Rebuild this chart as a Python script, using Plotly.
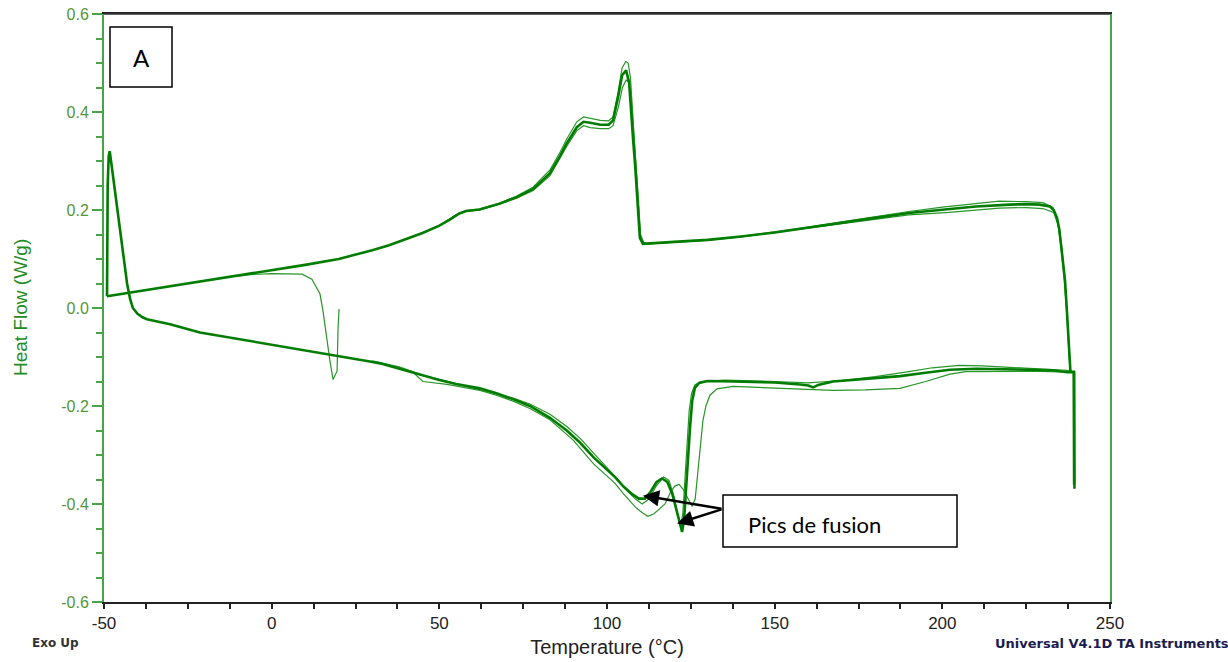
import plotly.graph_objects as go

# ---------------- data ----------------
# Cooling curves (exothermic crystallisation peak), temperature in °C, heat flow in W/g
cool_main_T = [239.3, 239.25, 239.2, 238.2, 237.9, 237.6, 237.2, 236.6, 235.7, 234.9, 234.2, 233.2, 232.1,
               229, 225, 220, 210, 200, 190, 180, 170, 160, 150, 140, 130, 120, 115, 112, 110.7, 109.8,
               109, 108.4, 107.8, 107.2, 106.6, 105.7, 104.5, 103.3, 101.8, 100.5, 98, 95, 93, 91, 88, 86,
               83, 78, 73, 68, 62, 58, 56, 53, 50, 45, 40, 35, 30, 25, 20, 10, 0, -10, -20, -30, -40, -46, -49.1]
cool_main_v = [-0.36, -0.25, -0.13, -0.13, -0.10, -0.068, -0.012, 0.055, 0.117, 0.16, 0.184, 0.2, 0.207,
               0.211, 0.212, 0.211, 0.207, 0.201, 0.194, 0.184, 0.174, 0.164, 0.154, 0.146, 0.139, 0.135, 0.133, 0.131, 0.131, 0.143,
               0.24, 0.29, 0.342, 0.40, 0.46, 0.485, 0.475, 0.43, 0.383, 0.374, 0.374, 0.378, 0.38, 0.369, 0.336, 0.31,
               0.275, 0.243, 0.226, 0.213, 0.201, 0.198, 0.193, 0.18, 0.168, 0.153, 0.14, 0.128, 0.118, 0.109, 0.1, 0.088, 0.077,
               0.066, 0.055, 0.045, 0.034, 0.027, 0.024]

cool_b_T = [238.0, 237.6, 237.0, 236.2, 235.3, 234.3, 233.0, 230, 225, 217, 210, 200, 190, 180, 170, 160, 150, 140,
            130, 120, 112, 110.8, 109.9, 109, 108.3, 107.6, 107, 106.3, 105.6, 104.5, 103.3, 101.8, 100.5, 98, 95, 93,
            91, 88, 86, 83, 78, 73, 68, 62, 58, 55, 50, 45, 40]
cool_b_v = [-0.12, -0.06, 0.0, 0.07, 0.13, 0.18, 0.205, 0.215, 0.217, 0.218, 0.213, 0.206, 0.197, 0.187, 0.176, 0.165, 0.155, 0.146,
            0.139, 0.135, 0.131, 0.134, 0.15, 0.25, 0.33, 0.41, 0.47, 0.5, 0.503, 0.49, 0.44, 0.39, 0.382, 0.383, 0.387, 0.39,
            0.38, 0.345, 0.318, 0.282, 0.247, 0.228, 0.214, 0.202, 0.199, 0.19, 0.168, 0.153, 0.14]

cool_c_T = [238.1, 237.7, 237.1, 236.4, 235.5, 234.5, 233.2, 230, 225, 217, 210, 202, 190, 180, 170, 160, 150, 140,
            130, 120, 112, 110.9, 110.0, 109.2, 108.4, 107.7, 107.1, 106.4, 105.7, 104.6, 103.4, 101.8, 100.5, 98, 95, 93,
            91, 88, 86, 83, 78, 73, 68, 62, 58, 55, 50, 45, 40]
cool_c_v = [-0.12, -0.06, 0.0, 0.07, 0.13, 0.17, 0.195, 0.203, 0.205, 0.204, 0.2, 0.195, 0.19, 0.181, 0.172, 0.162, 0.153, 0.145,
            0.138, 0.134, 0.131, 0.134, 0.15, 0.24, 0.32, 0.39, 0.44, 0.462, 0.465, 0.45, 0.41, 0.372, 0.366, 0.366, 0.368, 0.372,
            0.362, 0.33, 0.305, 0.27, 0.24, 0.224, 0.212, 0.2, 0.197, 0.19, 0.168, 0.153, 0.14]

# Initial thin segment (equilibration from ~20 °C)
init_T = [20.1, 19.8, 19.5, 18.3, 17.4, 16.5, 15.3, 14.4, 12, 9, 5, 0, -6.5, -10]
init_v = [-0.002, -0.041, -0.129, -0.146, -0.109, -0.061, -0.006, 0.029, 0.059, 0.069, 0.07, 0.07, 0.068, 0.065]

# Heating curves (endothermic melting peaks)
heat_main_T = [-49.1, -49.05, -48.9, -48.6, -48.3, -47.9, -47.0, -46.0, -45.2, -44.0, -43.1, -42.2, -41.4, -40.0,
               -38.5, -37.2, -34, -30.3, -21.4, -10, 0, 8.5, 20, 29.3, 32.3, 38, 42.2, 50, 55, 62.1, 67, 72, 77, 83,
               88, 92, 96, 100, 102.4, 105, 107.5, 109.5, 111.3, 113, 114.8, 116.4, 118, 119.5, 120.8, 121.8, 122.4,
               123, 123.5, 124.2, 124.8, 125.4, 126.2, 127.5, 130, 137.6, 150, 157.6, 160, 161.5, 163, 167.4, 177,
               187.4, 195, 202.3, 210, 220, 227, 233, 237.2, 239.3, 239.35, 239.4]
heat_main_v = [0.024, 0.15, 0.25, 0.31, 0.32, 0.30, 0.255, 0.20, 0.158, 0.10, 0.049, 0.018, 0.0, -0.012,
               -0.019, -0.023, -0.028, -0.033, -0.05, -0.063, -0.075, -0.085, -0.097, -0.109, -0.113, -0.124, -0.133,
               -0.147, -0.155, -0.164, -0.174, -0.186, -0.2, -0.224,
               -0.25, -0.275, -0.305, -0.33, -0.345, -0.365, -0.38, -0.389, -0.389, -0.375, -0.355, -0.348, -0.355,
               -0.38, -0.415, -0.445, -0.457, -0.43, -0.37, -0.30, -0.24, -0.19, -0.163, -0.153, -0.149, -0.15,
               -0.152, -0.156, -0.158, -0.162, -0.157, -0.15, -0.145, -0.139, -0.132, -0.126, -0.124, -0.125,
               -0.125, -0.127, -0.131, -0.131, -0.25, -0.369]

heat_b_T = [30, 38, 45, 55, 65, 72, 77, 83, 88, 92, 96, 100, 103, 106, 108.5, 110.5, 112.5, 114.5, 116.9, 118.5,
            120, 121.2, 122, 122.6, 123.2, 123.8, 124.5, 125.2, 126.2, 128, 135, 150, 160, 170, 180, 190, 197, 205,
            212, 220, 230, 238.5]
heat_b_v = [-0.108, -0.12, -0.137, -0.154, -0.172, -0.184, -0.196, -0.217, -0.242, -0.266, -0.296, -0.325, -0.348,
            -0.373, -0.39, -0.40, -0.39, -0.365, -0.345, -0.352, -0.385, -0.425, -0.445, -0.42, -0.35, -0.28, -0.21,
            -0.175, -0.157, -0.15, -0.147, -0.15, -0.153, -0.148, -0.14, -0.13, -0.122, -0.117, -0.118, -0.121,
            -0.124, -0.128]

heat_c_T = [30, 38, 42, 45.1, 52.3, 62.1, 67, 72, 77, 83, 90, 96, 102.4, 105, 108.4, 110.5, 112.2, 114, 117.3, 119,
            120.3, 121.5, 122.7, 123.9, 125.4, 126.3, 127.1, 127.8, 128.6, 129.5, 130.7, 132.8, 137.6, 145, 157.6,
            167.4, 177, 187.4, 195, 202.3, 207, 215, 227, 237.2]
heat_c_v = [-0.11, -0.121, -0.13, -0.15, -0.156, -0.168, -0.178, -0.19, -0.205, -0.228, -0.27, -0.318, -0.358,
            -0.38, -0.406, -0.418, -0.425, -0.42, -0.40, -0.375, -0.363, -0.36, -0.37, -0.385, -0.405, -0.39, -0.33,
            -0.287, -0.23, -0.2, -0.178, -0.165, -0.16, -0.162, -0.165, -0.168, -0.167, -0.164, -0.15, -0.135, -0.13,
            -0.129, -0.129, -0.131]

x_tick_vals = [-50, 0, 50, 100, 150, 200, 250]
x_tick_text = ["-50", "0", "50", "100", "150", "200", "250"]
y_tick_vals = [-0.6, -0.4, -0.2, 0.0, 0.2, 0.4, 0.6]
y_tick_text = ["-0.6", "-0.4", "-0.2", "0.0", "0.2", "0.4", "0.6"]

# ---------------- figure ----------------
DARK = "rgb(0,125,0)"
THIN = "rgb(40,150,40)"

fig = go.Figure()

def add(T, v, color, width):
    fig.add_trace(go.Scatter(x=T, y=v, mode="lines", line=dict(color=color, width=width),
                             hoverinfo="skip", showlegend=False))

add(cool_c_T, cool_c_v, THIN, 1.2)
add(cool_b_T, cool_b_v, THIN, 1.2)
add(heat_b_T, heat_b_v, THIN, 1.2)
add(heat_c_T, heat_c_v, THIN, 1.2)
add(init_T, init_v, THIN, 1.2)
add(cool_main_T, cool_main_v, DARK, 2.6)
add(heat_main_T, heat_main_v, DARK, 2.6)

W, H = 1228, 662
L, R, T_, B = 104, 118, 14, 60
pw, ph = W - L - R, H - T_ - B

def px(xp):
    return (xp - L) / pw

def py(yp):
    return (H - B - yp) / ph

fig.update_layout(
    width=W, height=H,
    margin=dict(l=L, r=R, t=T_, b=B, autoexpand=False),
    paper_bgcolor="white", plot_bgcolor="white",
    font=dict(family="Liberation Sans, Arial, sans-serif"),
    xaxis=dict(
        range=[-50, 250], tickmode="array", tickvals=x_tick_vals, ticktext=x_tick_text,
        ticks="outside", ticklen=5, tickwidth=1.5, tickcolor="#222",
        showline=True, linecolor="#222", linewidth=1.5, mirror=True,
        showgrid=False, zeroline=False, automargin=False,
        minor=dict(tick0=-50, dtick=12.5, ticks="outside", ticklen=5, tickwidth=1.5, tickcolor="#222"),
        tickfont=dict(size=17, color="#222"),
        title=dict(text="Temperature (°C)", font=dict(size=20, color="#222"), standoff=8),
    ),
    yaxis=dict(
        range=[-0.6, 0.6], tickmode="array", tickvals=y_tick_vals, ticktext=y_tick_text,
        ticks="outside", ticklen=10, tickwidth=1.5, tickcolor="rgb(70,165,70)",
        showline=True, linecolor="rgb(70,165,70)", linewidth=2, mirror=True,
        showgrid=False, zeroline=False, automargin=False,
        minor=dict(tick0=-0.6, dtick=0.05, ticks="outside", ticklen=6, tickwidth=1.5, tickcolor="rgb(70,165,70)"),
        tickfont=dict(size=16, color="rgb(85,150,55)"),
    ),
)

# top border dark
fig.add_shape(type="line", xref="paper", yref="paper", x0=0, x1=1, y0=1, y1=1,
              line=dict(color="#333", width=1.5))

# y-axis title
fig.add_annotation(text="Heat Flow (W/g)", xref="paper", yref="paper", x=px(20), y=py(308),
                   textangle=-90, showarrow=False, font=dict(size=19, color="rgb(34,139,34)"),
                   xanchor="center", yanchor="middle")

# "A" box
fig.add_shape(type="rect", xref="paper", yref="paper", x0=px(110), x1=px(172), y0=py(87), y1=py(27),
              line=dict(color="black", width=1.5), fillcolor="white")
fig.add_annotation(text="A", xref="paper", yref="paper", x=px(141), y=py(57), showarrow=False,
                   font=dict(family="Lato, Liberation Sans, sans-serif", size=24, color="black"),
                   xanchor="center", yanchor="middle")

# "Pics de fusion" box
fig.add_shape(type="rect", xref="paper", yref="paper", x0=px(723), x1=px(957), y0=py(547), y1=py(495),
              line=dict(color="black", width=1.5), fillcolor="white")
fig.add_annotation(text="Pics de fusion", xref="paper", yref="paper", x=px(746), y=py(524), showarrow=False,
                   font=dict(family="Lato, Liberation Sans, sans-serif", size=22, color="black"),
                   xanchor="left", yanchor="middle")

# arrows (tail at box edge, head at peaks)
for hx, hy in [(110.7, -0.383), (120.9, -0.44)]:
    fig.add_annotation(x=hx, y=hy, xref="x", yref="y", ax=134.6, ay=-0.41, axref="x", ayref="y",
                       showarrow=True, arrowhead=2, arrowsize=1.3, arrowwidth=2.5, arrowcolor="black", text="")

# footer texts
fig.add_annotation(text="<b>Exo Up</b>", xref="paper", yref="paper", x=px(30), y=py(643), showarrow=False,
                   font=dict(family="DejaVu Sans, sans-serif", size=12, color="#333"),
                   xanchor="left", yanchor="middle")
fig.add_annotation(text="<b>Universal V4.1D TA Instruments</b>", xref="paper", yref="paper", x=px(993), y=py(643),
                   showarrow=False, font=dict(family="DejaVu Sans, sans-serif", size=13, color="#1c1c50"),
                   xanchor="left", yanchor="middle")

fig.write_html("out.html")
